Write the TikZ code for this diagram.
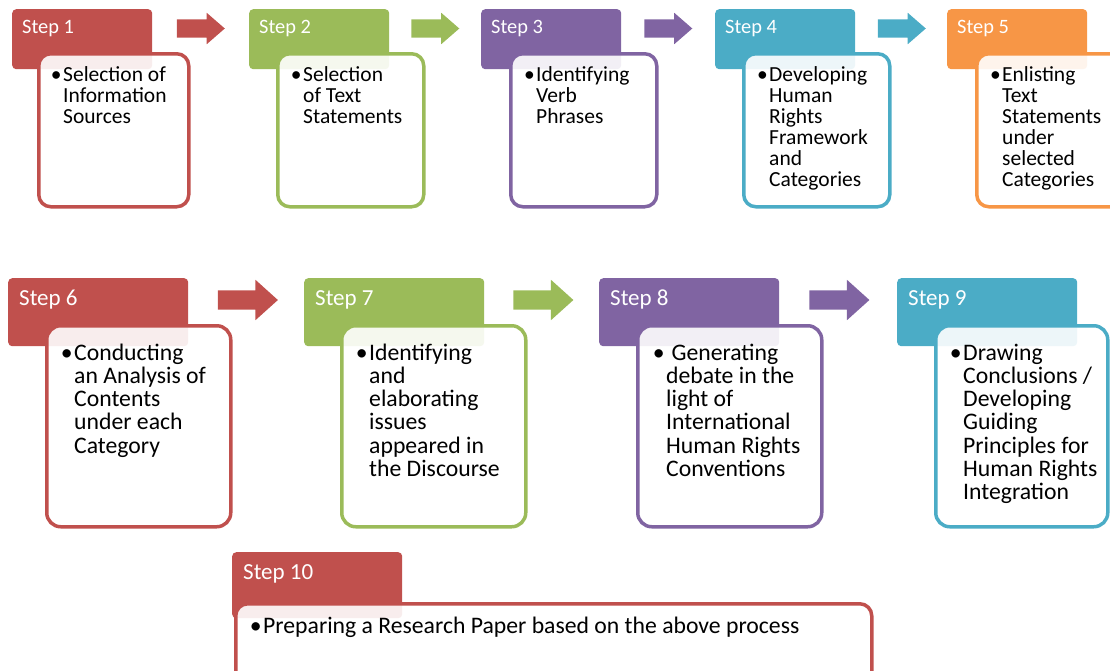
\documentclass[tikz,border=0pt]{standalone}
\usepackage{fontspec}
\setmainfont{Carlito}
\usepackage{xcolor}
\usepackage{tikz}
\usetikzlibrary{shapes.arrows}

\definecolor{stepred}{HTML}{C0504D}
\definecolor{stepgreen}{HTML}{9BBB59}
\definecolor{steppurple}{HTML}{8064A2}
\definecolor{stepteal}{HTML}{4BACC6}
\definecolor{steporange}{HTML}{F79646}

\newcommand{\stepitem}[1]{\parbox[t]{700pt}{\raggedright\leavevmode\llap{\textbullet\hspace{1.5pt}}#1}}

\tikzset{
  stephead/.style={fill=#1, rounded corners=4pt, anchor=north west, inner sep=0pt},
  stepbody/.style={draw=#1, fill=white, fill opacity=0.9, line width=3.5pt, rounded corners=12pt, anchor=north west, inner sep=0pt},
  steplabel/.style={anchor=base west, inner sep=0pt, text=white},
  steptext/.style={anchor=base west, inner sep=0pt, text=black},
  blockarrow/.style={single arrow, fill=#1, draw=none, inner xsep=0pt, shape border rotate=0}
}

\begin{document}
\begin{tikzpicture}[x=1pt, y=-1pt]
    \useasboundingbox (0,0) rectangle (1110,670);
    \clip (0,0) rectangle (1110,670);

    % Headers, first row
    \node[stephead=stepred, minimum width=140pt, minimum height=60pt] (h1) at (12,9) {};
    \node[stephead=stepgreen, minimum width=140pt, minimum height=60pt] (h2) at (249,9) {};
    \node[stephead=steppurple, minimum width=140pt, minimum height=60pt] (h3) at (481,9) {};
    \node[stephead=stepteal, minimum width=140pt, minimum height=60pt] (h4) at (715,9) {};
    \node[stephead=steporange, minimum width=140pt, minimum height=60pt] (h5) at (947,9) {};

    % Headers, second row
    \node[stephead=stepred, minimum width=180pt, minimum height=68pt] (h6) at (8,278) {};
    \node[stephead=stepgreen, minimum width=180pt, minimum height=68pt] (h7) at (304,278) {};
    \node[stephead=steppurple, minimum width=180pt, minimum height=68pt] (h8) at (599,278) {};
    \node[stephead=stepteal, minimum width=180pt, minimum height=68pt] (h9) at (897,278) {};
    \node[stephead=stepred, minimum width=170pt, minimum height=66pt] (h10) at (232,552) {};

    % Bodies
    \node[stepbody=stepred, minimum width=150pt, minimum height=153pt] (b1) at (37,52) {};
    \node[stepbody=stepgreen, minimum width=146pt, minimum height=153pt] (b2) at (276,52) {};
    \node[stepbody=steppurple, minimum width=146pt, minimum height=153pt] (b3) at (509,52) {};
    \node[stepbody=stepteal, minimum width=146pt, minimum height=153pt] (b4) at (742,52) {};
    \node[stepbody=steporange, minimum width=150pt, minimum height=153pt] (b5) at (975,52) {};
    \node[stepbody=stepred, minimum width=184pt, minimum height=201pt, rounded corners=14pt] (b6) at (45,324) {};
    \node[stepbody=stepgreen, minimum width=184pt, minimum height=201pt, rounded corners=14pt] (b7) at (340,324) {};
    \node[stepbody=steppurple, minimum width=184pt, minimum height=201pt, rounded corners=14pt] (b8) at (636,324) {};
    \node[stepbody=stepteal, minimum width=172pt, minimum height=201pt, rounded corners=14pt] (b9) at (934,324) {};
    \node[stepbody=stepred, minimum width=636pt, minimum height=80pt] (b10) at (234,602) {};

    % Step labels
    \node[steplabel, font=\fontsize{20.4pt}{24pt}\selectfont] (l1) at (22,33) {Step 1};
    \node[steplabel, font=\fontsize{20.4pt}{24pt}\selectfont] (l2) at (259,33) {Step 2};
    \node[steplabel, font=\fontsize{20.4pt}{24pt}\selectfont] (l3) at (491,33) {Step 3};
    \node[steplabel, font=\fontsize{20.4pt}{24pt}\selectfont] (l4) at (725,33) {Step 4};
    \node[steplabel, font=\fontsize{20.4pt}{24pt}\selectfont] (l5) at (957,33) {Step 5};
    \node[steplabel, font=\fontsize{23pt}{27pt}\selectfont] (l6) at (19,305) {Step 6};
    \node[steplabel, font=\fontsize{23pt}{27pt}\selectfont] (l7) at (315,305) {Step 7};
    \node[steplabel, font=\fontsize{23pt}{27pt}\selectfont] (l8) at (610,305) {Step 8};
    \node[steplabel, font=\fontsize{23pt}{27pt}\selectfont] (l9) at (908,305) {Step 9};
    \node[steplabel, font=\fontsize{23pt}{27pt}\selectfont] (l10) at (243,579) {Step 10};

    % Step texts
    \node[steptext, font=\fontsize{21.5pt}{21pt}\selectfont] (s1) at (63,81) {\stepitem{Selection of\\Information\\Sources}};
    \node[steptext, font=\fontsize{21.5pt}{21pt}\selectfont] (s2) at (303,81) {\stepitem{Selection\\of Text\\Statements}};
    \node[steptext, font=\fontsize{21.5pt}{21pt}\selectfont] (s3) at (536,81) {\stepitem{Identifying\\Verb\\Phrases}};
    \node[steptext, font=\fontsize{21.5pt}{21pt}\selectfont] (s4) at (769,81) {\stepitem{Developing\\Human\\Rights\\Framework\\and\\Categories}};
    \node[steptext, font=\fontsize{21.5pt}{21pt}\selectfont] (s5) at (1002,81) {\stepitem{Enlisting\\Text\\Statements\\under\\selected\\Categories}};
    \node[steptext, font=\fontsize{23.7pt}{23.3pt}\selectfont] (s6) at (74,360) {\stepitem{Conducting\\an Analysis of\\Contents\\under each\\Category}};
    \node[steptext, font=\fontsize{23.7pt}{23.3pt}\selectfont] (s7) at (369,360) {\stepitem{Identifying\\and\\elaborating\\issues\\appeared in\\the Discourse}};
    \node[steptext, font=\fontsize{23.7pt}{23.3pt}\selectfont] (s8) at (666,360) {\stepitem{\ Generating\\debate in the\\light of\\International\\Human Rights\\Conventions}};
    \node[steptext, font=\fontsize{23.7pt}{23.3pt}\selectfont] (s9) at (963,360) {\stepitem{Drawing\\Conclusions /\\Developing\\Guiding\\Principles for\\Human Rights\\Integration}};
    \node[steptext, font=\fontsize{23.7pt}{23.3pt}\selectfont] (s10) at (263,633) {\stepitem{Preparing a Research Paper based on the above process}};

    % Arrows between steps
    \node[blockarrow=stepred, minimum height=48pt, minimum width=31pt, inner ysep=9pt, single arrow head extend=6.5pt, single arrow tip angle=82] (a1) at (195.5,28.5) {};
    \node[blockarrow=stepgreen, minimum height=48pt, minimum width=31pt, inner ysep=9pt, single arrow head extend=6.5pt, single arrow tip angle=82] (a2) at (430,28.5) {};
    \node[blockarrow=steppurple, minimum height=48pt, minimum width=31pt, inner ysep=9pt, single arrow head extend=6.5pt, single arrow tip angle=82] (a3) at (663,28.5) {};
    \node[blockarrow=stepteal, minimum height=48pt, minimum width=31pt, inner ysep=9pt, single arrow head extend=6.5pt, single arrow tip angle=82] (a4) at (896.5,28.5) {};
    \node[blockarrow=stepred, minimum height=60pt, minimum width=40pt, inner ysep=9.5pt, single arrow head extend=10.5pt, single arrow tip angle=84] (a6) at (242.5,300) {};
    \node[blockarrow=stepgreen, minimum height=60pt, minimum width=40pt, inner ysep=9.5pt, single arrow head extend=10.5pt, single arrow tip angle=84] (a7) at (538,300) {};
    \node[blockarrow=steppurple, minimum height=60pt, minimum width=40pt, inner ysep=9.5pt, single arrow head extend=10.5pt, single arrow tip angle=84] (a8) at (834,300) {};

\end{tikzpicture}
\end{document}
